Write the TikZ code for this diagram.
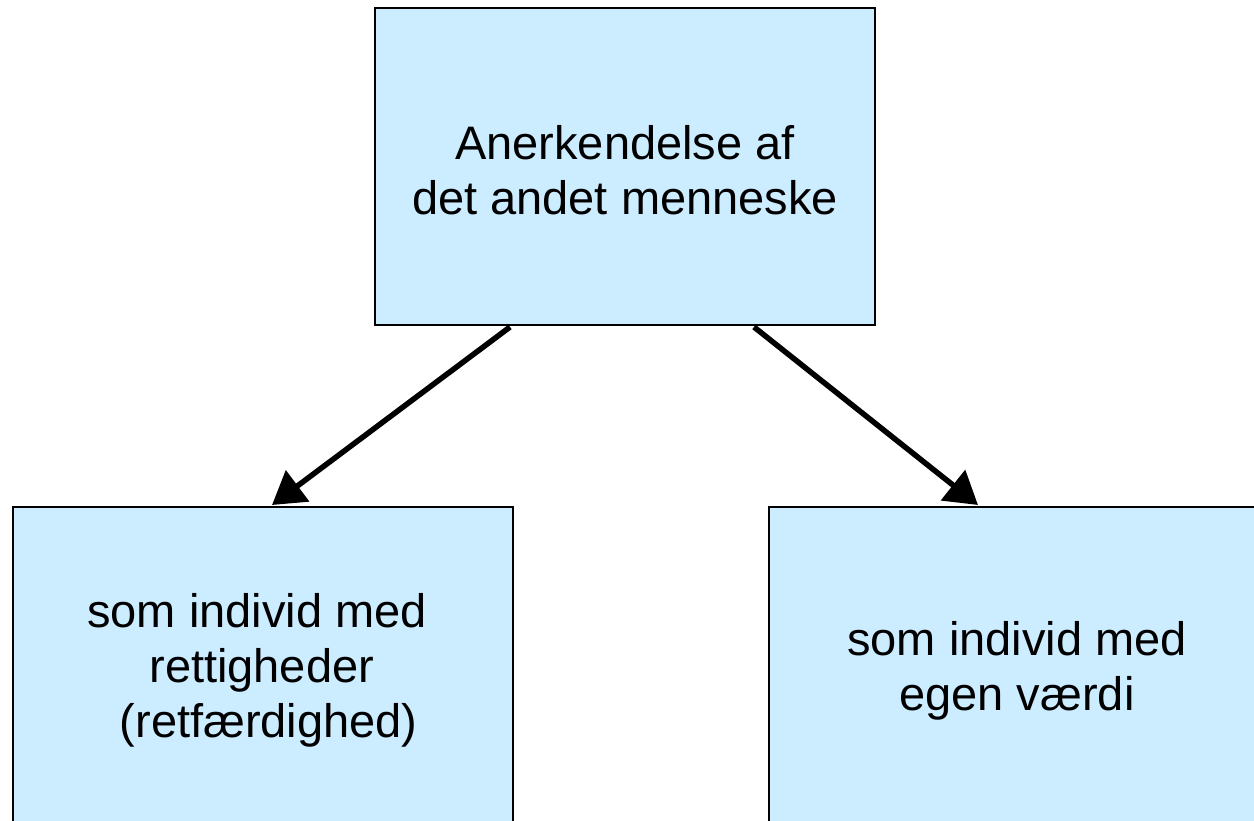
\documentclass[tikz,border=0pt]{standalone}
\usepackage{fontspec}
\setmainfont{Liberation Sans}
\usetikzlibrary{arrows.meta}
\definecolor{boxfill}{HTML}{CCECFF}
\begin{document}
\begin{tikzpicture}[x=1pt,y=-1pt,
  boxstyle/.style={draw=black,line width=2.2pt,fill=boxfill},
  lbl/.style={align=center,font=\fontsize{47}{55}\selectfont,inner sep=0pt},
  arr/.style={line width=5.5pt,-{Triangle[length=32pt,width=38pt]}}]
\useasboundingbox (0,0) rectangle (1254,821);
\begin{scope}
\clip (0,0) rectangle (1254,821);
\draw[boxstyle] (375,8) rectangle (875,325);
\draw[boxstyle] (13,507) rectangle (513,860);
\draw[boxstyle] (769,507) rectangle (1300,860);
\end{scope}
\node[lbl] (top) at (625,170) {Anerkendelse af\hspace{0.3em}\\det andet menneske};
\node[lbl] (left) at (257,670) {som individ med\hspace{0.3em}\\\hspace{0.2em}rettigheder\\\hspace{0.5em}(retfærdighed)};
\node[lbl] (right) at (1017,671) {som individ med\\egen værdi};
\coordinate (t1) at (510,327);
\coordinate (t2) at (754,327);
\coordinate (l1) at (272,505);
\coordinate (r1) at (978,505);
\draw[arr] (t1) -- (l1);
\draw[arr] (t2) -- (r1);
\end{tikzpicture}
\end{document}
